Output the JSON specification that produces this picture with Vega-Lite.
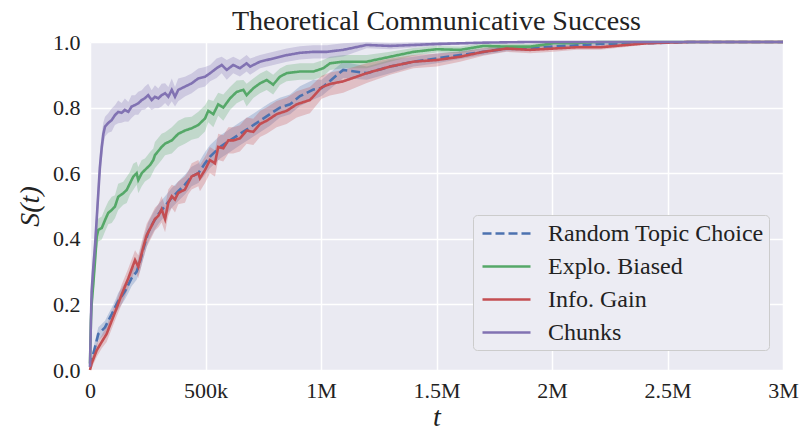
{
"$schema": "https://vega.github.io/schema/vega-lite/v6.json",
"width": 693, "height": 328,
"autosize": {"type": "none"},
"padding": {"left": 90, "top": 42, "right": 19, "bottom": 60},
"background": "white",
"title": {"text": "Theoretical Communicative Success", "font": "Liberation Serif", "fontSize": 28, "fontWeight": "normal", "color": "#222222", "anchor": "middle", "offset": -5},
"config": {
  "view": {"fill": "#EAEAF2", "stroke": null},
  "axis": {"domain": false, "ticks": false, "gridColor": "#FFFFFF", "gridWidth": 1.5, "labelFont": "Liberation Serif", "labelFontSize": 22, "labelColor": "#222222", "titleFont": "Liberation Serif", "titleFontSize": 28, "titleFontWeight": "normal", "titleFontStyle": "italic", "titleColor": "#222222"},
  "legend": {"fillColor": "#ECECF3", "strokeColor": "#CCCCCC", "cornerRadius": 4, "padding": 5, "labelFont": "Liberation Serif", "labelFontSize": 24, "labelColor": "#222222", "labelLimit": 300, "symbolType": "M-2,0H2", "symbolSize": 576, "symbolStrokeWidth": 2.6, "symbolOffset": 15, "labelOffset": 28, "rowPadding": 7}
},
"data": {"values": [
{"s":"Random Topic Choice","t":0,"v":0.01,"lo":0,"hi":0.02},
{"s":"Random Topic Choice","t":7000,"v":0.03,"lo":0.015,"hi":0.045},
{"s":"Random Topic Choice","t":22000,"v":0.07,"lo":0.05,"hi":0.09},
{"s":"Random Topic Choice","t":36000,"v":0.11,"lo":0.09,"hi":0.13},
{"s":"Random Topic Choice","t":51000,"v":0.12,"lo":0.10,"hi":0.14},
{"s":"Random Topic Choice","t":65000,"v":0.13,"lo":0.11,"hi":0.15},
{"s":"Random Topic Choice","t":79000,"v":0.15,"lo":0.13,"hi":0.17},
{"s":"Random Topic Choice","t":94000,"v":0.17,"lo":0.15,"hi":0.19},
{"s":"Random Topic Choice","t":108000,"v":0.19,"lo":0.17,"hi":0.21},
{"s":"Random Topic Choice","t":122000,"v":0.21,"lo":0.185,"hi":0.235},
{"s":"Random Topic Choice","t":137000,"v":0.225,"lo":0.20,"hi":0.25},
{"s":"Random Topic Choice","t":151000,"v":0.24,"lo":0.215,"hi":0.265},
{"s":"Random Topic Choice","t":166000,"v":0.26,"lo":0.235,"hi":0.285},
{"s":"Random Topic Choice","t":180000,"v":0.28,"lo":0.255,"hi":0.305},
{"s":"Random Topic Choice","t":202000,"v":0.30,"lo":0.275,"hi":0.325},
{"s":"Random Topic Choice","t":216000,"v":0.33,"lo":0.30,"hi":0.36},
{"s":"Random Topic Choice","t":231000,"v":0.37,"lo":0.34,"hi":0.40},
{"s":"Random Topic Choice","t":252000,"v":0.42,"lo":0.39,"hi":0.45},
{"s":"Random Topic Choice","t":274000,"v":0.45,"lo":0.42,"hi":0.48},
{"s":"Random Topic Choice","t":296000,"v":0.475,"lo":0.445,"hi":0.505},
{"s":"Random Topic Choice","t":325000,"v":0.50,"lo":0.47,"hi":0.53},
{"s":"Random Topic Choice","t":354000,"v":0.525,"lo":0.495,"hi":0.555},
{"s":"Random Topic Choice","t":382000,"v":0.545,"lo":0.515,"hi":0.575},
{"s":"Random Topic Choice","t":411000,"v":0.565,"lo":0.535,"hi":0.595},
{"s":"Random Topic Choice","t":440000,"v":0.59,"lo":0.56,"hi":0.62},
{"s":"Random Topic Choice","t":469000,"v":0.60,"lo":0.57,"hi":0.63},
{"s":"Random Topic Choice","t":498000,"v":0.63,"lo":0.595,"hi":0.665},
{"s":"Random Topic Choice","t":519000,"v":0.65,"lo":0.615,"hi":0.685},
{"s":"Random Topic Choice","t":563000,"v":0.68,"lo":0.645,"hi":0.715},
{"s":"Random Topic Choice","t":606000,"v":0.70,"lo":0.665,"hi":0.735},
{"s":"Random Topic Choice","t":649000,"v":0.72,"lo":0.685,"hi":0.755},
{"s":"Random Topic Choice","t":693000,"v":0.74,"lo":0.705,"hi":0.775},
{"s":"Random Topic Choice","t":736000,"v":0.76,"lo":0.725,"hi":0.795},
{"s":"Random Topic Choice","t":779000,"v":0.78,"lo":0.745,"hi":0.815},
{"s":"Random Topic Choice","t":822000,"v":0.80,"lo":0.77,"hi":0.83},
{"s":"Random Topic Choice","t":866000,"v":0.81,"lo":0.78,"hi":0.84},
{"s":"Random Topic Choice","t":909000,"v":0.835,"lo":0.805,"hi":0.865},
{"s":"Random Topic Choice","t":967000,"v":0.855,"lo":0.825,"hi":0.885},
{"s":"Random Topic Choice","t":1003000,"v":0.86,"lo":0.835,"hi":0.885},
{"s":"Random Topic Choice","t":1096000,"v":0.915,"lo":0.89,"hi":0.94},
{"s":"Random Topic Choice","t":1198000,"v":0.905,"lo":0.885,"hi":0.925},
{"s":"Random Topic Choice","t":1299000,"v":0.925,"lo":0.905,"hi":0.945},
{"s":"Random Topic Choice","t":1400000,"v":0.94,"lo":0.925,"hi":0.955},
{"s":"Random Topic Choice","t":1501000,"v":0.95,"lo":0.935,"hi":0.965},
{"s":"Random Topic Choice","t":1602000,"v":0.96,"lo":0.948,"hi":0.972},
{"s":"Random Topic Choice","t":1703000,"v":0.97,"lo":0.96,"hi":0.98},
{"s":"Random Topic Choice","t":1804000,"v":0.98,"lo":0.972,"hi":0.988},
{"s":"Random Topic Choice","t":1905000,"v":0.98,"lo":0.972,"hi":0.988},
{"s":"Random Topic Choice","t":2006000,"v":0.986,"lo":0.98,"hi":0.992},
{"s":"Random Topic Choice","t":2107000,"v":0.99,"lo":0.985,"hi":0.995},
{"s":"Random Topic Choice","t":2208000,"v":0.994,"lo":0.99,"hi":0.998},
{"s":"Random Topic Choice","t":2309000,"v":0.994,"lo":0.99,"hi":0.998},
{"s":"Random Topic Choice","t":2410000,"v":0.996,"lo":0.993,"hi":0.999},
{"s":"Random Topic Choice","t":2497000,"v":0.998,"lo":0.996,"hi":1.0},
{"s":"Random Topic Choice","t":2597000,"v":1.0,"lo":1.0,"hi":1.0},
{"s":"Random Topic Choice","t":3000000,"v":1.0,"lo":1.0,"hi":1.0},
{"s":"Explo. Biased","t":0,"v":0.02,"lo":0.01,"hi":0.03},
{"s":"Explo. Biased","t":4000,"v":0.15,"lo":0.11,"hi":0.19},
{"s":"Explo. Biased","t":7000,"v":0.20,"lo":0.16,"hi":0.24},
{"s":"Explo. Biased","t":14000,"v":0.26,"lo":0.22,"hi":0.30},
{"s":"Explo. Biased","t":22000,"v":0.335,"lo":0.295,"hi":0.375},
{"s":"Explo. Biased","t":29000,"v":0.406,"lo":0.366,"hi":0.446},
{"s":"Explo. Biased","t":36000,"v":0.427,"lo":0.392,"hi":0.462},
{"s":"Explo. Biased","t":51000,"v":0.433,"lo":0.398,"hi":0.468},
{"s":"Explo. Biased","t":65000,"v":0.457,"lo":0.422,"hi":0.492},
{"s":"Explo. Biased","t":79000,"v":0.479,"lo":0.444,"hi":0.514},
{"s":"Explo. Biased","t":94000,"v":0.488,"lo":0.448,"hi":0.528},
{"s":"Explo. Biased","t":108000,"v":0.498,"lo":0.463,"hi":0.533},
{"s":"Explo. Biased","t":122000,"v":0.528,"lo":0.488,"hi":0.568},
{"s":"Explo. Biased","t":144000,"v":0.539,"lo":0.504,"hi":0.574},
{"s":"Explo. Biased","t":159000,"v":0.549,"lo":0.509,"hi":0.589},
{"s":"Explo. Biased","t":173000,"v":0.569,"lo":0.534,"hi":0.604},
{"s":"Explo. Biased","t":187000,"v":0.589,"lo":0.549,"hi":0.629},
{"s":"Explo. Biased","t":202000,"v":0.60,"lo":0.565,"hi":0.635},
{"s":"Explo. Biased","t":209000,"v":0.579,"lo":0.539,"hi":0.619},
{"s":"Explo. Biased","t":224000,"v":0.60,"lo":0.56,"hi":0.64},
{"s":"Explo. Biased","t":238000,"v":0.61,"lo":0.575,"hi":0.645},
{"s":"Explo. Biased","t":260000,"v":0.625,"lo":0.585,"hi":0.665},
{"s":"Explo. Biased","t":274000,"v":0.64,"lo":0.605,"hi":0.675},
{"s":"Explo. Biased","t":281000,"v":0.655,"lo":0.615,"hi":0.695},
{"s":"Explo. Biased","t":310000,"v":0.68,"lo":0.64,"hi":0.72},
{"s":"Explo. Biased","t":325000,"v":0.69,"lo":0.655,"hi":0.725},
{"s":"Explo. Biased","t":354000,"v":0.70,"lo":0.66,"hi":0.74},
{"s":"Explo. Biased","t":382000,"v":0.72,"lo":0.68,"hi":0.76},
{"s":"Explo. Biased","t":411000,"v":0.73,"lo":0.69,"hi":0.77},
{"s":"Explo. Biased","t":440000,"v":0.737,"lo":0.702,"hi":0.772},
{"s":"Explo. Biased","t":469000,"v":0.747,"lo":0.707,"hi":0.787},
{"s":"Explo. Biased","t":498000,"v":0.767,"lo":0.727,"hi":0.807},
{"s":"Explo. Biased","t":512000,"v":0.79,"lo":0.755,"hi":0.825},
{"s":"Explo. Biased","t":534000,"v":0.78,"lo":0.74,"hi":0.82},
{"s":"Explo. Biased","t":555000,"v":0.81,"lo":0.775,"hi":0.845},
{"s":"Explo. Biased","t":577000,"v":0.80,"lo":0.76,"hi":0.84},
{"s":"Explo. Biased","t":606000,"v":0.828,"lo":0.793,"hi":0.863},
{"s":"Explo. Biased","t":635000,"v":0.848,"lo":0.813,"hi":0.883},
{"s":"Explo. Biased","t":664000,"v":0.854,"lo":0.824,"hi":0.884},
{"s":"Explo. Biased","t":678000,"v":0.838,"lo":0.803,"hi":0.873},
{"s":"Explo. Biased","t":707000,"v":0.859,"lo":0.829,"hi":0.889},
{"s":"Explo. Biased","t":736000,"v":0.874,"lo":0.844,"hi":0.904},
{"s":"Explo. Biased","t":765000,"v":0.884,"lo":0.854,"hi":0.914},
{"s":"Explo. Biased","t":793000,"v":0.87,"lo":0.84,"hi":0.90},
{"s":"Explo. Biased","t":822000,"v":0.894,"lo":0.869,"hi":0.919},
{"s":"Explo. Biased","t":851000,"v":0.905,"lo":0.88,"hi":0.93},
{"s":"Explo. Biased","t":909000,"v":0.91,"lo":0.885,"hi":0.935},
{"s":"Explo. Biased","t":967000,"v":0.91,"lo":0.885,"hi":0.935},
{"s":"Explo. Biased","t":1010000,"v":0.92,"lo":0.895,"hi":0.945},
{"s":"Explo. Biased","t":1039000,"v":0.935,"lo":0.915,"hi":0.955},
{"s":"Explo. Biased","t":1096000,"v":0.94,"lo":0.92,"hi":0.96},
{"s":"Explo. Biased","t":1198000,"v":0.94,"lo":0.92,"hi":0.96},
{"s":"Explo. Biased","t":1299000,"v":0.955,"lo":0.94,"hi":0.97},
{"s":"Explo. Biased","t":1400000,"v":0.97,"lo":0.958,"hi":0.982},
{"s":"Explo. Biased","t":1501000,"v":0.978,"lo":0.968,"hi":0.988},
{"s":"Explo. Biased","t":1602000,"v":0.976,"lo":0.966,"hi":0.986},
{"s":"Explo. Biased","t":1703000,"v":0.988,"lo":0.98,"hi":0.996},
{"s":"Explo. Biased","t":1804000,"v":0.986,"lo":0.978,"hi":0.994},
{"s":"Explo. Biased","t":1905000,"v":0.986,"lo":0.978,"hi":0.994},
{"s":"Explo. Biased","t":2006000,"v":0.996,"lo":0.992,"hi":1.0},
{"s":"Explo. Biased","t":2107000,"v":0.997,"lo":0.994,"hi":1.0},
{"s":"Explo. Biased","t":2208000,"v":1.0,"lo":1.0,"hi":1.0},
{"s":"Explo. Biased","t":3000000,"v":1.0,"lo":1.0,"hi":1.0},
{"s":"Info. Gain","t":0,"v":0.0,"lo":0.0,"hi":0.005},
{"s":"Info. Gain","t":7000,"v":0.02,"lo":0.005,"hi":0.035},
{"s":"Info. Gain","t":29000,"v":0.06,"lo":0.04,"hi":0.08},
{"s":"Info. Gain","t":51000,"v":0.086,"lo":0.066,"hi":0.106},
{"s":"Info. Gain","t":72000,"v":0.11,"lo":0.085,"hi":0.135},
{"s":"Info. Gain","t":94000,"v":0.15,"lo":0.125,"hi":0.175},
{"s":"Info. Gain","t":116000,"v":0.19,"lo":0.165,"hi":0.215},
{"s":"Info. Gain","t":137000,"v":0.23,"lo":0.20,"hi":0.26},
{"s":"Info. Gain","t":166000,"v":0.28,"lo":0.25,"hi":0.31},
{"s":"Info. Gain","t":195000,"v":0.335,"lo":0.305,"hi":0.365},
{"s":"Info. Gain","t":209000,"v":0.315,"lo":0.28,"hi":0.35},
{"s":"Info. Gain","t":231000,"v":0.375,"lo":0.34,"hi":0.41},
{"s":"Info. Gain","t":245000,"v":0.41,"lo":0.375,"hi":0.445},
{"s":"Info. Gain","t":267000,"v":0.44,"lo":0.405,"hi":0.475},
{"s":"Info. Gain","t":281000,"v":0.46,"lo":0.425,"hi":0.495},
{"s":"Info. Gain","t":296000,"v":0.47,"lo":0.435,"hi":0.505},
{"s":"Info. Gain","t":310000,"v":0.49,"lo":0.45,"hi":0.53},
{"s":"Info. Gain","t":325000,"v":0.46,"lo":0.42,"hi":0.50},
{"s":"Info. Gain","t":339000,"v":0.51,"lo":0.47,"hi":0.55},
{"s":"Info. Gain","t":354000,"v":0.53,"lo":0.495,"hi":0.565},
{"s":"Info. Gain","t":368000,"v":0.52,"lo":0.48,"hi":0.56},
{"s":"Info. Gain","t":382000,"v":0.54,"lo":0.505,"hi":0.575},
{"s":"Info. Gain","t":411000,"v":0.55,"lo":0.51,"hi":0.59},
{"s":"Info. Gain","t":425000,"v":0.57,"lo":0.535,"hi":0.605},
{"s":"Info. Gain","t":440000,"v":0.59,"lo":0.55,"hi":0.63},
{"s":"Info. Gain","t":469000,"v":0.60,"lo":0.56,"hi":0.64},
{"s":"Info. Gain","t":476000,"v":0.585,"lo":0.545,"hi":0.625},
{"s":"Info. Gain","t":498000,"v":0.61,"lo":0.57,"hi":0.65},
{"s":"Info. Gain","t":519000,"v":0.64,"lo":0.60,"hi":0.68},
{"s":"Info. Gain","t":541000,"v":0.63,"lo":0.59,"hi":0.67},
{"s":"Info. Gain","t":555000,"v":0.68,"lo":0.64,"hi":0.72},
{"s":"Info. Gain","t":577000,"v":0.676,"lo":0.636,"hi":0.716},
{"s":"Info. Gain","t":599000,"v":0.70,"lo":0.66,"hi":0.74},
{"s":"Info. Gain","t":620000,"v":0.70,"lo":0.66,"hi":0.74},
{"s":"Info. Gain","t":649000,"v":0.706,"lo":0.666,"hi":0.746},
{"s":"Info. Gain","t":678000,"v":0.73,"lo":0.69,"hi":0.77},
{"s":"Info. Gain","t":707000,"v":0.726,"lo":0.686,"hi":0.766},
{"s":"Info. Gain","t":736000,"v":0.75,"lo":0.71,"hi":0.79},
{"s":"Info. Gain","t":765000,"v":0.76,"lo":0.72,"hi":0.80},
{"s":"Info. Gain","t":808000,"v":0.78,"lo":0.74,"hi":0.82},
{"s":"Info. Gain","t":851000,"v":0.79,"lo":0.75,"hi":0.83},
{"s":"Info. Gain","t":895000,"v":0.81,"lo":0.77,"hi":0.85},
{"s":"Info. Gain","t":938000,"v":0.82,"lo":0.78,"hi":0.86},
{"s":"Info. Gain","t":952000,"v":0.823,"lo":0.783,"hi":0.863},
{"s":"Info. Gain","t":1003000,"v":0.862,"lo":0.827,"hi":0.897},
{"s":"Info. Gain","t":1039000,"v":0.872,"lo":0.837,"hi":0.907},
{"s":"Info. Gain","t":1096000,"v":0.88,"lo":0.845,"hi":0.915},
{"s":"Info. Gain","t":1198000,"v":0.905,"lo":0.875,"hi":0.935},
{"s":"Info. Gain","t":1299000,"v":0.925,"lo":0.90,"hi":0.95},
{"s":"Info. Gain","t":1400000,"v":0.94,"lo":0.92,"hi":0.96},
{"s":"Info. Gain","t":1501000,"v":0.945,"lo":0.925,"hi":0.965},
{"s":"Info. Gain","t":1602000,"v":0.955,"lo":0.94,"hi":0.97},
{"s":"Info. Gain","t":1703000,"v":0.97,"lo":0.958,"hi":0.982},
{"s":"Info. Gain","t":1804000,"v":0.98,"lo":0.97,"hi":0.99},
{"s":"Info. Gain","t":1905000,"v":0.976,"lo":0.966,"hi":0.986},
{"s":"Info. Gain","t":2006000,"v":0.98,"lo":0.97,"hi":0.99},
{"s":"Info. Gain","t":2107000,"v":0.984,"lo":0.976,"hi":0.992},
{"s":"Info. Gain","t":2208000,"v":0.984,"lo":0.976,"hi":0.992},
{"s":"Info. Gain","t":2309000,"v":0.99,"lo":0.984,"hi":0.996},
{"s":"Info. Gain","t":2410000,"v":0.996,"lo":0.992,"hi":1.0},
{"s":"Info. Gain","t":2497000,"v":0.998,"lo":0.996,"hi":1.0},
{"s":"Info. Gain","t":2597000,"v":1.0,"lo":1.0,"hi":1.0},
{"s":"Info. Gain","t":3000000,"v":1.0,"lo":1.0,"hi":1.0},
{"s":"Chunks","t":0,"v":0.01,"lo":0.0,"hi":0.02},
{"s":"Chunks","t":4000,"v":0.15,"lo":0.10,"hi":0.20},
{"s":"Chunks","t":7000,"v":0.24,"lo":0.19,"hi":0.29},
{"s":"Chunks","t":14000,"v":0.31,"lo":0.26,"hi":0.36},
{"s":"Chunks","t":22000,"v":0.38,"lo":0.33,"hi":0.43},
{"s":"Chunks","t":29000,"v":0.46,"lo":0.41,"hi":0.51},
{"s":"Chunks","t":36000,"v":0.54,"lo":0.49,"hi":0.59},
{"s":"Chunks","t":43000,"v":0.62,"lo":0.575,"hi":0.665},
{"s":"Chunks","t":51000,"v":0.68,"lo":0.64,"hi":0.72},
{"s":"Chunks","t":58000,"v":0.72,"lo":0.685,"hi":0.755},
{"s":"Chunks","t":65000,"v":0.742,"lo":0.712,"hi":0.772},
{"s":"Chunks","t":79000,"v":0.753,"lo":0.723,"hi":0.783},
{"s":"Chunks","t":94000,"v":0.762,"lo":0.727,"hi":0.797},
{"s":"Chunks","t":108000,"v":0.777,"lo":0.747,"hi":0.807},
{"s":"Chunks","t":122000,"v":0.787,"lo":0.752,"hi":0.822},
{"s":"Chunks","t":137000,"v":0.784,"lo":0.754,"hi":0.814},
{"s":"Chunks","t":151000,"v":0.793,"lo":0.758,"hi":0.828},
{"s":"Chunks","t":166000,"v":0.787,"lo":0.757,"hi":0.817},
{"s":"Chunks","t":180000,"v":0.803,"lo":0.768,"hi":0.838},
{"s":"Chunks","t":195000,"v":0.808,"lo":0.778,"hi":0.838},
{"s":"Chunks","t":209000,"v":0.813,"lo":0.778,"hi":0.848},
{"s":"Chunks","t":224000,"v":0.823,"lo":0.793,"hi":0.853},
{"s":"Chunks","t":238000,"v":0.829,"lo":0.794,"hi":0.864},
{"s":"Chunks","t":252000,"v":0.838,"lo":0.803,"hi":0.873},
{"s":"Chunks","t":267000,"v":0.823,"lo":0.793,"hi":0.853},
{"s":"Chunks","t":281000,"v":0.833,"lo":0.798,"hi":0.868},
{"s":"Chunks","t":296000,"v":0.828,"lo":0.798,"hi":0.858},
{"s":"Chunks","t":310000,"v":0.838,"lo":0.803,"hi":0.873},
{"s":"Chunks","t":325000,"v":0.844,"lo":0.814,"hi":0.874},
{"s":"Chunks","t":339000,"v":0.833,"lo":0.803,"hi":0.863},
{"s":"Chunks","t":354000,"v":0.854,"lo":0.819,"hi":0.889},
{"s":"Chunks","t":368000,"v":0.833,"lo":0.803,"hi":0.863},
{"s":"Chunks","t":382000,"v":0.854,"lo":0.819,"hi":0.889},
{"s":"Chunks","t":411000,"v":0.864,"lo":0.834,"hi":0.894},
{"s":"Chunks","t":440000,"v":0.874,"lo":0.844,"hi":0.904},
{"s":"Chunks","t":469000,"v":0.889,"lo":0.859,"hi":0.919},
{"s":"Chunks","t":498000,"v":0.894,"lo":0.864,"hi":0.924},
{"s":"Chunks","t":520000,"v":0.905,"lo":0.88,"hi":0.93},
{"s":"Chunks","t":548000,"v":0.92,"lo":0.89,"hi":0.95},
{"s":"Chunks","t":570000,"v":0.93,"lo":0.905,"hi":0.955},
{"s":"Chunks","t":592000,"v":0.915,"lo":0.885,"hi":0.945},
{"s":"Chunks","t":620000,"v":0.93,"lo":0.905,"hi":0.955},
{"s":"Chunks","t":649000,"v":0.92,"lo":0.895,"hi":0.945},
{"s":"Chunks","t":678000,"v":0.935,"lo":0.91,"hi":0.96},
{"s":"Chunks","t":693000,"v":0.925,"lo":0.90,"hi":0.95},
{"s":"Chunks","t":736000,"v":0.94,"lo":0.92,"hi":0.96},
{"s":"Chunks","t":794000,"v":0.95,"lo":0.93,"hi":0.97},
{"s":"Chunks","t":852000,"v":0.96,"lo":0.94,"hi":0.98},
{"s":"Chunks","t":909000,"v":0.967,"lo":0.947,"hi":0.987},
{"s":"Chunks","t":967000,"v":0.97,"lo":0.95,"hi":0.99},
{"s":"Chunks","t":1025000,"v":0.97,"lo":0.95,"hi":0.99},
{"s":"Chunks","t":1096000,"v":0.976,"lo":0.956,"hi":0.996},
{"s":"Chunks","t":1198000,"v":0.991,"lo":0.981,"hi":1.0},
{"s":"Chunks","t":1299000,"v":0.988,"lo":0.978,"hi":0.998},
{"s":"Chunks","t":1400000,"v":0.991,"lo":0.983,"hi":0.999},
{"s":"Chunks","t":1501000,"v":0.994,"lo":0.988,"hi":1.0},
{"s":"Chunks","t":1602000,"v":0.996,"lo":0.992,"hi":1.0},
{"s":"Chunks","t":1703000,"v":0.998,"lo":0.996,"hi":1.0},
{"s":"Chunks","t":1804000,"v":0.999,"lo":0.998,"hi":1.0},
{"s":"Chunks","t":1905000,"v":1.0,"lo":1.0,"hi":1.0},
{"s":"Chunks","t":3000000,"v":1.0,"lo":1.0,"hi":1.0}
]},
"encoding": {
  "x": {"field": "t", "type": "quantitative", "scale": {"domain": [0, 3000000], "nice": false},
        "axis": {"title": "t", "values": [0, 500000, 1000000, 1500000, 2000000, 2500000, 3000000], "labelExpr": "datum.value == 0 ? '0' : (datum.value < 1000000 ? (datum.value/1000) + 'k' : (datum.value/1000000) + 'M')", "labelFlush": false, "labelOverlap": false, "labelPadding": 10, "titlePadding": 2}}
},
"layer": [
  {
    "transform": [{"filter": "datum.s == 'Random Topic Choice'"}],
    "mark": {"type": "area", "opacity": 0.28, "color": "#4C72B0"},
    "encoding": {
      "y": {"field": "lo", "type": "quantitative", "scale": {"domain": [0, 1]}, "axis": {"title": "S(t)", "values": [0, 0.2, 0.4, 0.6, 0.8, 1.0], "format": ".1f", "labelPadding": 10, "titlePadding": 8}},
      "y2": {"field": "hi"}
    }
  },
  {
    "transform": [{"filter": "datum.s == 'Explo. Biased'"}],
    "mark": {"type": "area", "opacity": 0.28, "color": "#55A868"},
    "encoding": {
      "y": {"field": "lo", "type": "quantitative", "scale": {"domain": [0, 1]}, "axis": {"title": "S(t)", "values": [0, 0.2, 0.4, 0.6, 0.8, 1.0], "format": ".1f", "labelPadding": 10, "titlePadding": 8}},
      "y2": {"field": "hi"}
    }
  },
  {
    "transform": [{"filter": "datum.s == 'Info. Gain'"}],
    "mark": {"type": "area", "opacity": 0.28, "color": "#C44E52"},
    "encoding": {
      "y": {"field": "lo", "type": "quantitative", "scale": {"domain": [0, 1]}, "axis": {"title": "S(t)", "values": [0, 0.2, 0.4, 0.6, 0.8, 1.0], "format": ".1f", "labelPadding": 10, "titlePadding": 8}},
      "y2": {"field": "hi"}
    }
  },
  {
    "transform": [{"filter": "datum.s == 'Chunks'"}],
    "mark": {"type": "area", "opacity": 0.28, "color": "#8172B2"},
    "encoding": {
      "y": {"field": "lo", "type": "quantitative", "scale": {"domain": [0, 1]}, "axis": {"title": "S(t)", "values": [0, 0.2, 0.4, 0.6, 0.8, 1.0], "format": ".1f", "labelPadding": 10, "titlePadding": 8}},
      "y2": {"field": "hi"}
    }
  },
  {
    "mark": {"type": "line", "strokeWidth": 2.6},
    "encoding": {
      "y": {"field": "v", "type": "quantitative", "scale": {"domain": [0, 1]}, "axis": {"title": "S(t)", "values": [0, 0.2, 0.4, 0.6, 0.8, 1.0], "format": ".1f", "labelPadding": 10, "titlePadding": 8}},
      "color": {"field": "s", "type": "nominal", "scale": {"domain": ["Random Topic Choice", "Explo. Biased", "Info. Gain", "Chunks"], "range": ["#4C72B0", "#55A868", "#C44E52", "#8172B2"]},
                "legend": {"orient": "none", "legendX": 383, "legendY": 173, "title": null}},
      "strokeDash": {"field": "s", "type": "nominal", "scale": {"domain": ["Random Topic Choice", "Explo. Biased", "Info. Gain", "Chunks"], "range": [[9, 4], [1, 0], [1, 0], [1, 0]]},
                "legend": {"orient": "none", "legendX": 383, "legendY": 173, "title": null}}
    }
  }
]
}
